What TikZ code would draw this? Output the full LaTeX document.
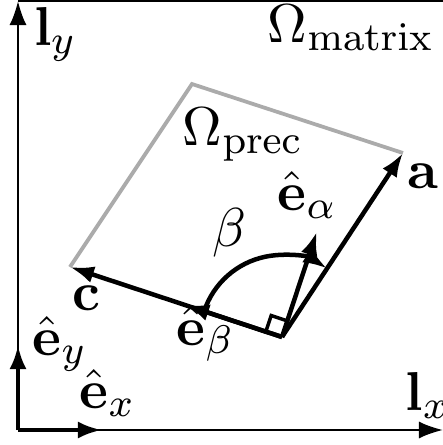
\documentclass[tikz,border=0pt]{standalone}
\usetikzlibrary{arrows.meta,calc}
\definecolor{precgray}{gray}{0.67}
\begin{document}
\begin{tikzpicture}[x=0.2pt,y=0.2pt,
  tip/.style={-{Latex[length=4.8pt,width=3.4pt]}},
  vec/.style={line width=0.9pt,tip},
  axis/.style={line width=0.45pt,tip},
  lab/.style={anchor=base west,inner sep=0pt,font=\fontsize{11.3pt}{13pt}\selectfont}]
\useasboundingbox (0,0) rectangle (443,445);
% points
\coordinate (O) at (18,15);
\coordinate (Lx) at (443,15);
\coordinate (Ly) at (18,444);
\coordinate (TL) at (18,444.2);
\coordinate (TR) at (443,444.2);
\coordinate (Ex) at (102,15);
\coordinate (Ey) at (18,100);
\coordinate (P) at (282,108);
\coordinate (A) at (403,292);
\coordinate (C) at (70,178);
\coordinate (T) at (192,361);
\coordinate (Ea) at ($(P)+(71.7:111)$);
\coordinate (Eb) at ($(P)+(161.7:102)$);
\coordinate (q1) at ($(P)!3.4pt!(C)$);
\coordinate (q3) at ($(P)!3.4pt!(Ea)$);
\coordinate (q2) at ($(q1)+(q3)-(P)$);
% Omega_matrix box top edge
\draw[line width=0.3pt] (TL) -- (TR);
% axes
\draw[axis] (O) -- (Lx);
\draw[axis] (O) -- (Ly);
\draw[vec] (O) -- (Ex);
\draw[vec] (O) -- (Ey);
% precision cell
\draw[precgray,line width=0.75pt,line join=miter] (C) -- (T) -- (A);
% vectors
\draw[vec] (P) -- (A);
\draw[vec] (P) -- (C);
\draw[vec] (P) -- (Ea);
\draw[vec] (P) -- (Eb);
\draw[line width=0.7pt] (q1) -- (q2) -- (q3);
\draw[vec] ($(P)+(161.7:82)$) arc[start angle=161.7,end angle=56.7,radius=16.4pt];
% labels
\node[lab] (ly) at (33,400) {$\mathbf{l}_y$};
\node[lab] (om) at (267,403) {$\Omega_{\mathrm{matrix}}$};
\node[lab] (op) at (182,300) {$\Omega_{\mathrm{prec}}$};
\node[lab] (la) at (407,257) {$\mathbf{a}$};
\node[lab] (lea) at (277,235) {$\hat{\mathbf{e}}_\alpha$};
\node[lab] (lb) at (212,199) {$\beta$};
\node[lab] (lc) at (72,135) {$\mathbf{c}$};
\node[lab] (leb) at (176,100) {$\hat{\mathbf{e}}_\beta$};
\node[lab] (ley) at (32,90) {$\hat{\mathbf{e}}_y$};
\node[lab] (lex) at (79,37) {$\hat{\mathbf{e}}_x$};
\node[lab] (lx) at (405,35) {$\mathbf{l}_x$};
\end{tikzpicture}
\end{document}
